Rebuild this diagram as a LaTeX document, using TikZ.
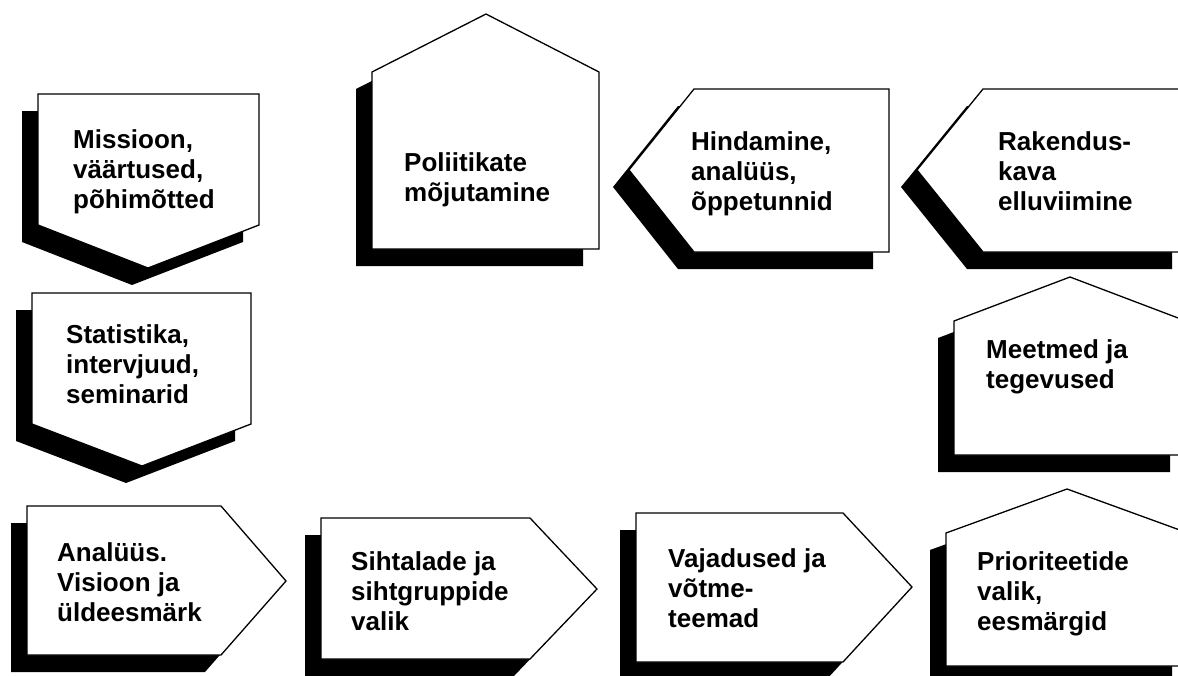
\documentclass[tikz,border=0pt]{standalone}
\usepackage{fontspec}
\setmainfont{Liberation Sans}
\usepackage{tikz}

\begin{document}
\begin{tikzpicture}[x=1pt,y=-1pt]
	\tikzstyle{shadowfill}=[fill=black,xshift=-16pt,yshift=-17pt]
	\tikzstyle{tagbox}=[draw=black,fill=white,line width=1.3pt]
	\tikzstyle{tagtext}=[anchor=base west,inner sep=0pt,align=left,font=\fontsize{26}{30}\selectfont\bfseries]
	\useasboundingbox (0,0) rectangle (1178,675);
	\clip (0,0) rectangle (1178,675);
	% top row
	\fill[shadowfill] (38,94) -- (259,94) -- (259,225) -- (148,268) -- (38,225) -- cycle;
	\filldraw[tagbox] (38,94) -- (259,94) -- (259,225) -- (148,268) -- (38,225) -- cycle;
	\fill[shadowfill] (372,249) -- (372,72) -- (486,14) -- (599,72) -- (599,249) -- cycle;
	\filldraw[tagbox] (372,249) -- (372,72) -- (486,14) -- (599,72) -- (599,249) -- cycle;
	\fill[shadowfill] (629,170) -- (694,89) -- (889,89) -- (889,252) -- (694,252) -- cycle;
	\filldraw[tagbox] (629,170) -- (694,89) -- (889,89) -- (889,252) -- (694,252) -- cycle;
	\fill[shadowfill] (917,170) -- (983,89) -- (1188,89) -- (1188,252) -- (983,252) -- cycle;
	\filldraw[tagbox] (917,170) -- (983,89) -- (1188,89) -- (1188,252) -- (983,252) -- cycle;
	% middle row
	\fill[shadowfill] (32,293) -- (251,293) -- (251,424) -- (142,466) -- (32,424) -- cycle;
	\filldraw[tagbox] (32,293) -- (251,293) -- (251,424) -- (142,466) -- (32,424) -- cycle;
	\fill[shadowfill] (954,455) -- (954,321) -- (1070,277) -- (1186,321) -- (1186,455) -- cycle;
	\filldraw[tagbox] (954,455) -- (954,321) -- (1070,277) -- (1186,321) -- (1186,455) -- cycle;
	% bottom row
	\fill[shadowfill] (27,506) -- (221,506) -- (286,581) -- (221,655) -- (27,655) -- cycle;
	\filldraw[tagbox] (27,506) -- (221,506) -- (286,581) -- (221,655) -- (27,655) -- cycle;
	\fill[shadowfill] (321,518) -- (530,518) -- (597,589) -- (530,659) -- (321,659) -- cycle;
	\filldraw[tagbox] (321,518) -- (530,518) -- (597,589) -- (530,659) -- (321,659) -- cycle;
	\fill[shadowfill] (636,513) -- (843,513) -- (912,587) -- (843,662) -- (636,662) -- cycle;
	\filldraw[tagbox] (636,513) -- (843,513) -- (912,587) -- (843,662) -- (636,662) -- cycle;
	\fill[shadowfill] (946,666) -- (946,533) -- (1067,489) -- (1188,533) -- (1188,666) -- cycle;
	\filldraw[tagbox] (946,666) -- (946,533) -- (1067,489) -- (1188,533) -- (1188,666) -- cycle;
	% texts (anchored at the last line)
	\node[tagtext] (missioon) at (73,208) {Missioon,\\väärtused,\\põhimõtted};
	\node[tagtext] (poliitika) at (404,201) {Poliitikate\\mõjutamine};
	\node[tagtext] (hindamine) at (691,210) {Hindamine,\\analüüs,\\õppetunnid};
	\node[tagtext] (rakendus) at (998,210) {Rakendus-\\kava\\elluviimine};
	\node[tagtext] (statistika) at (66,403) {Statistika,\\intervjuud,\\seminarid};
	\node[tagtext] (meetmed) at (986,388) {Meetmed ja\\tegevused};
	\node[tagtext] (analuus) at (57,621) {Analüüs.\\Visioon ja\\üldeesmärk};
	\node[tagtext] (sihtalad) at (351,630) {Sihtalade ja\\sihtgruppide\\valik};
	\node[tagtext] (vajadused) at (668,627) {Vajadused ja\\võtme-\\teemad};
	\node[tagtext] (prioriteet) at (977,630) {Prioriteetide\\valik,\\eesmärgid};
\end{tikzpicture}
\end{document}
